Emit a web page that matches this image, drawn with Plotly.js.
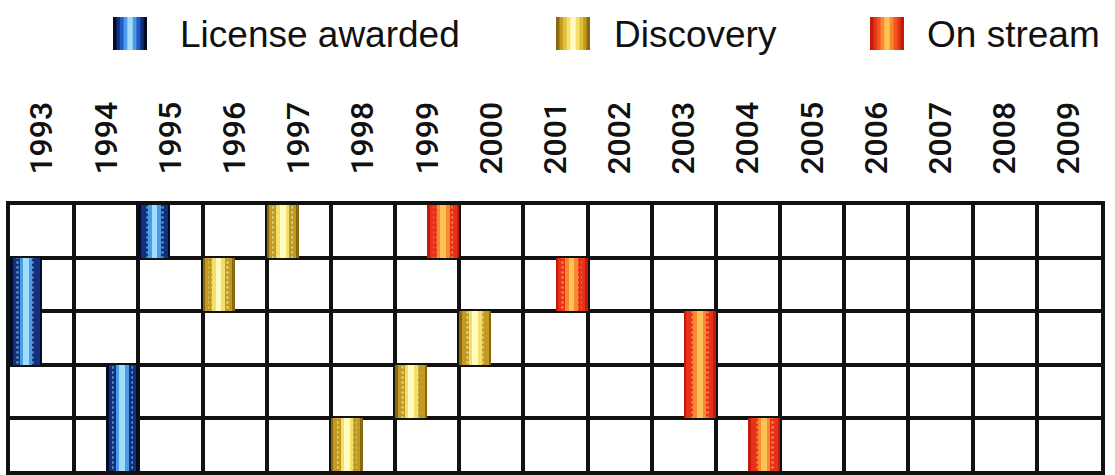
<!DOCTYPE html>
<html>
<head>
<meta charset="utf-8">
<script src="https://cdn.plot.ly/plotly-3.0.1.min.js"></script>
<style>
  html, body { margin: 0; padding: 0; background: #ffffff; }
  #chart { width: 1115px; height: 475px; }
</style>
</head>
<body>
<div id="chart"></div>
<script>
// ---- Data ----
const years = [1993, 1994, 1995, 1996, 1997, 1998, 1999, 2000, 2001,
               2002, 2003, 2004, 2005, 2006, 2007, 2008, 2009];
const rows = [0, 1, 2, 3, 4];           // five projects, top to bottom

// half: 1 = first half of the year, 2 = second half
const licenseYear   = [1995, 1993, 1993, 1994, 1994];
const licenseHalf   = [1, 1, 1, 2, 2];
const discoveryYear = [1997, 1996, 2000, 1999, 1998];
const discoveryHalf = [1, 1, 1, 1, 1];
const onstreamYear  = [1999, 2001, 2003, 2003, 2004];
const onstreamHalf  = [2, 2, 2, 2, 2];

const seriesNames = ['License awarded', 'Discovery', 'On stream'];

// ---- Styles ----
const FONT = '"Liberation Sans", Arial, sans-serif';
const TICKFONT = 'Roboto, "Liberation Sans", Arial, sans-serif';
const layerWidths = [0.5, 0.42, 0.32, 0.2, 0.09];   // outer -> centre stripe
const palettes = [
  ['#050a26', '#11307e', '#1f5cc4', '#4b9ce8', '#a2dcfa'],
  ['#8a6812', '#c29a22', '#e0bf38', '#f3df6c', '#fffac0'],
  ['#c41a0a', '#e6321a', '#f2581e', '#f8892f', '#fcc458']
];

const seriesData = [
  {year: licenseYear, half: licenseHalf},
  {year: discoveryYear, half: discoveryHalf},
  {year: onstreamYear, half: onstreamHalf}
];

const traces = [];
seriesData.forEach((s, si) => {
  const xs = s.year.map((y, i) => y + (s.half[i] === 1 ? 0.25 : 0.75));
  layerWidths.forEach((w, li) => {
    const marker = {color: palettes[si][li], line: {width: 0}};
    if (li === 2) {
      marker.pattern = {shape: '.', fgcolor: palettes[si][4], fgopacity: 0.5, size: 5, solidity: 0.25};
    }
    traces.push({
      type: 'bar',
      name: seriesNames[si],
      x: xs,
      y: rows.map(() => 1),
      base: rows,
      width: w,
      marker: marker,
      showlegend: false,
      hoverinfo: 'skip'
    });
  });
});

// ---- Custom legend (large keys like the reference) ----
const W = 1115, H = 475;
const M = {l: 10, r: 14, t: 205, b: 4};
const pw = W - M.l - M.r, ph = H - M.t - M.b;
const px2x = p => (p - M.l) / pw;
const py2y = p => (H - M.b - p) / ph;

const legendKeyLeft = [113, 556, 870];
const legendTextLeft = [178, 612, 925];
const keyTop = 17, keyBottom = 50, keyW = 34;

const shapes = [];
const annotations = [];
seriesNames.forEach((name, si) => {
  const x0 = legendKeyLeft[si];
  const fr = [1, 0.8, 0.6, 0.38, 0.16];
  fr.forEach((f, li) => {
    const half = keyW * f / 2;
    const cx = x0 + keyW / 2;
    shapes.push({
      type: 'rect', xref: 'paper', yref: 'paper',
      x0: px2x(cx - half), x1: px2x(cx + half),
      y0: py2y(keyBottom), y1: py2y(keyTop),
      fillcolor: palettes[si][li], line: {width: 0}
    });
  });
  annotations.push({
    xref: 'paper', yref: 'paper',
    x: px2x(legendTextLeft[si]), y: py2y((keyTop + keyBottom) / 2 + 1),
    xanchor: 'left', yanchor: 'middle',
    text: name, showarrow: false,
    font: {family: FONT, size: 37, color: '#111111'}
  });
});

const layout = {
  width: W, height: H,
  margin: M,
  paper_bgcolor: '#ffffff',
  plot_bgcolor: '#ffffff',
  barmode: 'overlay',
  bargap: 0,
  showlegend: false,
  hovermode: false,
  xaxis: {
    range: [years[0], years[years.length - 1] + 1],
    side: 'top',
    tickvals: years.map(y => y + 0.5),
    ticktext: years.map(String),
    tickangle: -90,
    ticks: '',
    ticklabelstandoff: 20,
    tickfont: {family: TICKFONT, size: 32, color: '#111111', weight: 500},
    showgrid: false,
    zeroline: false,
    showline: true, mirror: true, linecolor: '#111111', linewidth: 4,
    minor: {tick0: years[0], dtick: 1, showgrid: true, gridcolor: '#111111', gridwidth: 4, ticks: ''},
    fixedrange: true
  },
  yaxis: {
    range: [rows.length, 0],
    tick0: 0, dtick: 1,
    showticklabels: false,
    ticks: '',
    showgrid: true, gridcolor: '#111111', gridwidth: 4,
    zeroline: false,
    showline: true, mirror: true, linecolor: '#111111', linewidth: 4,
    fixedrange: true
  },
  shapes: shapes,
  annotations: annotations
};

Plotly.newPlot('chart', traces, layout, {displayModeBar: false, staticPlot: true});
</script>
</body>
</html>
